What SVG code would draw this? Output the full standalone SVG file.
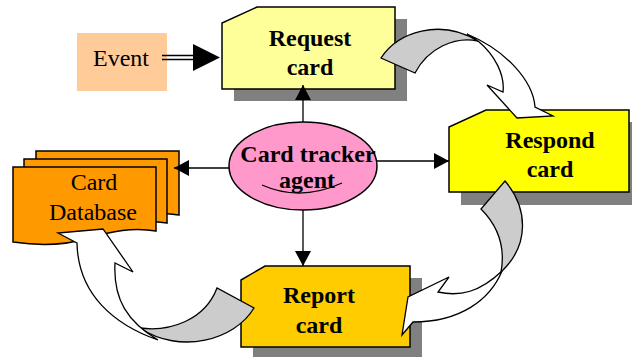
<svg xmlns="http://www.w3.org/2000/svg" xmlns:xlink="http://www.w3.org/1999/xlink" width="632" height="357" viewBox="0 0 632 357">
<style>
.t{font-family:"Liberation Serif","Times New Roman",serif;font-size:24px;fill:#000;text-anchor:middle}
.b{font-weight:bold}
.ol{stroke:#000;stroke-width:1.5}
.sh{fill:#808080;stroke:none}
.ln{stroke:#000;stroke-width:1.3;fill:none}
.back{fill:#CCCCCC;stroke:#000;stroke-width:1.3}
.front{fill:#FFFFFF;stroke:#000;stroke-width:1.3}
</style>
<defs>
<path id="doc" d="M0,0 H143 V64 C120,60 100,64 72,72 C45,80 20,78 0,75 Z"/>
<marker id="ah" markerWidth="15" markerHeight="16" refX="15" refY="8" orient="auto" markerUnits="userSpaceOnUse">
<path d="M0,0 L15,8 L0,16 Z" fill="#000"/>
</marker>
</defs>
<rect width="632" height="357" fill="#FFFFFF"/>
<g id="node-event">
<rect x="77" y="33" width="90" height="58" fill="#FFCC99"/>
<text class="t" x="121" y="66">Event</text>
</g>
<g id="node-request">
<polygon class="sh" points="269,19 407,19 407,101 234,101 234,35"/>
<polygon class="ol" fill="#FFFF99" points="257,7 395,7 395,89 222,89 222,23"/>
<text class="t b" x="310" y="46">Request</text>
<text class="t b" x="310" y="75">card</text>
</g>
<g id="node-respond">
<polygon class="sh" points="498,122 641,122 641,205 461,205 461,139"/>
<polygon class="ol" fill="#FFFF00" points="486,110 629,110 629,192 449,192 449,127"/>
<text class="t b" x="550" y="148">Respond</text>
<text class="t b" x="550" y="177">card</text>
</g>
<g id="node-report">
<polygon class="sh" points="277,278 422,278 422,360 253,360 253,292"/>
<polygon class="ol" fill="#FFCC00" points="265,266 410,266 410,347 241,347 241,280"/>
<text class="t b" x="319" y="303">Report</text>
<text class="t b" x="319" y="333">card</text>
</g>
<g id="node-database">
<use xlink:href="#doc" transform="translate(36,151)" fill="#FF9900" stroke="#000" stroke-width="1.5"/>
<use xlink:href="#doc" transform="translate(24,159)" fill="#FF9900" stroke="#000" stroke-width="1.5"/>
<use xlink:href="#doc" transform="translate(13,167)" fill="#FF9900" stroke="#000" stroke-width="1.5"/>
<text class="t" x="94" y="190">Card</text>
<text class="t" x="93" y="220">Database</text>
</g>
<g id="node-agent">
<ellipse class="ol" cx="303" cy="166" rx="74" ry="44" fill="#FF99CC"/>
<text class="t b" x="308" y="162">Card tracker</text>
<text class="t b" x="307" y="188">agent</text>
<path class="ln" d="M262,185 Q300,202 342,183"/>
</g>
<g id="connectors">
<line class="ln" x1="162" y1="55.5" x2="195" y2="55.5"/>
<line class="ln" x1="162" y1="59.5" x2="195" y2="59.5"/>
<polygon points="193,44 220,57.5 193,71" fill="#000"/>
<line class="ln" x1="303" y1="122" x2="303" y2="85" marker-end="url(#ah)"/>
<line class="ln" x1="229" y1="168" x2="174" y2="168" marker-end="url(#ah)"/>
<line class="ln" x1="377" y1="161" x2="449" y2="161" marker-end="url(#ah)"/>
<line class="ln" x1="303" y1="210" x2="303" y2="266" marker-end="url(#ah)"/>
<path class="back" d="M381,58 C398,32 440,18 478,41 C455,36 428,48 415,73 Z"/>
<path class="front" d="M478,41 C495,55 505,75 503,92 L487,85 L517,118 L553,116 L535,107 C533,80 505,50 467,34 Z"/>
<path class="back" d="M505,181 C528,208 530,245 501,272 C505,250 500,228 481,209 Z"/>
<path class="front" d="M502,271 C490,300 460,322 413,322 L402,335 L408,297 L449,277 L438,292 C460,297 480,292 502,271 Z"/>
<path class="back" d="M254,308 C235,340 180,355 140,328 C170,332 205,320 217,288 Z"/>
<path class="front" d="M77,243 L58,233 L103,229 L133,272 L115,263 C113,300 128,322 158,340 C115,325 78,295 77,243 Z"/>
</g>
</svg>
